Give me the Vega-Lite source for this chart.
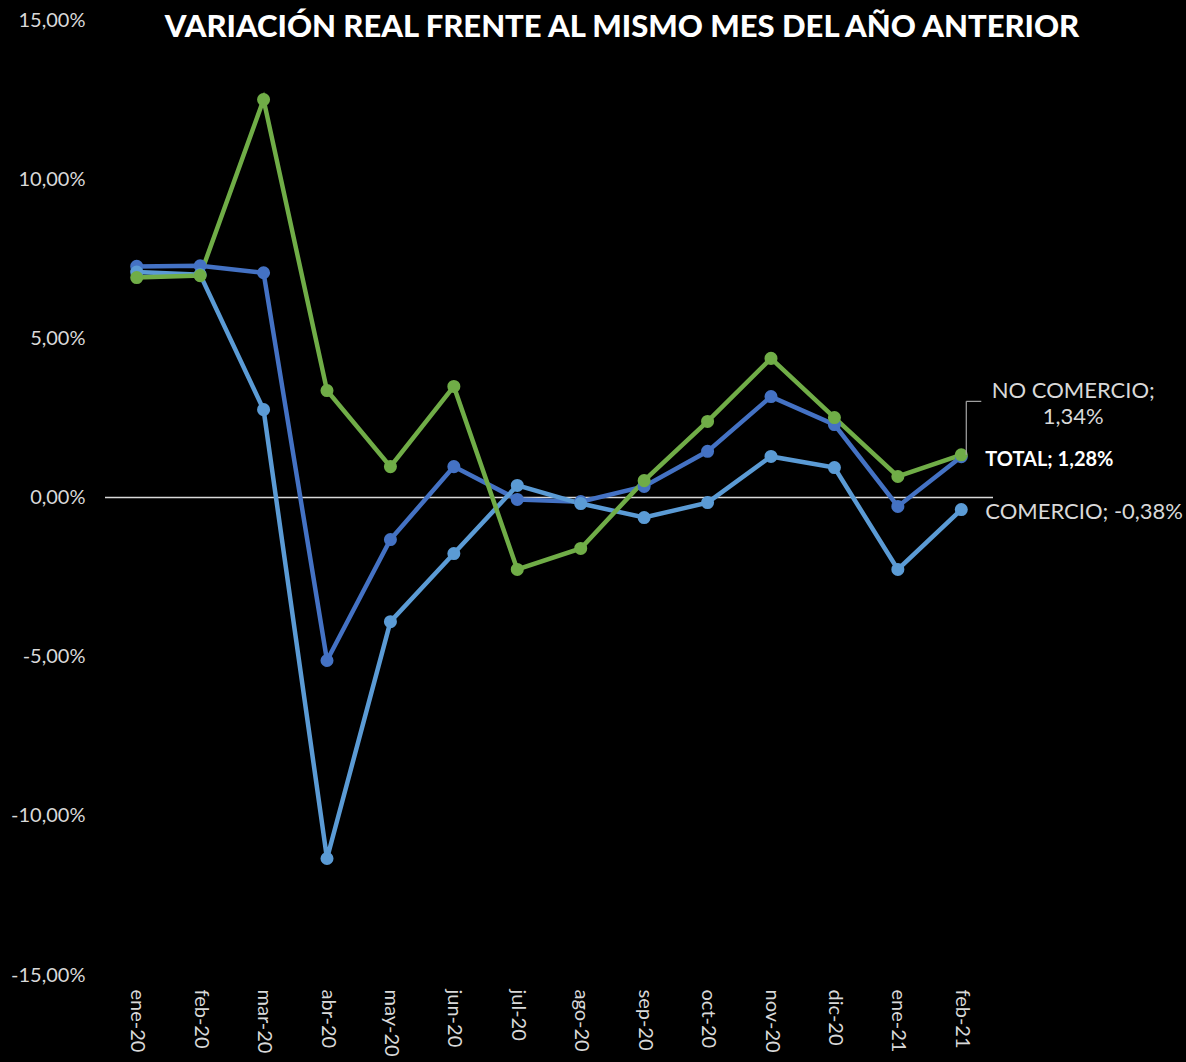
{
  "$schema": "https://vega.github.io/schema/vega-lite/v6.json",
  "width": 888,
  "height": 955,
  "autosize": {"type": "none"},
  "padding": {"left": 105, "top": 20, "right": 193, "bottom": 87},
  "background": "#000000",
  "config": {
    "view": {"stroke": null},
    "locale": {"number": {"decimal": ",", "thousands": ".", "grouping": [3], "currency": ["", " €"], "minus": "-"}},
    "font": "Lato"
  },
  "title": {
    "text": "VARIACIÓN REAL FRENTE AL MISMO MES DEL AÑO ANTERIOR",
    "color": "#ffffff",
    "font": "Lato",
    "fontWeight": 900,
    "fontSize": 31,
    "anchor": "middle",
    "frame": "group",
    "baseline": "middle",
    "offset": -49,
    "dx": 73
  },
  "datasets": {
    "series": [
      {"mes": "ene-20", "serie": "TOTAL", "valor": 0.0726},
      {"mes": "feb-20", "serie": "TOTAL", "valor": 0.0728},
      {"mes": "mar-20", "serie": "TOTAL", "valor": 0.0706},
      {"mes": "abr-20", "serie": "TOTAL", "valor": -0.0512},
      {"mes": "may-20", "serie": "TOTAL", "valor": -0.0132},
      {"mes": "jun-20", "serie": "TOTAL", "valor": 0.0097},
      {"mes": "jul-20", "serie": "TOTAL", "valor": -0.0006},
      {"mes": "ago-20", "serie": "TOTAL", "valor": -0.0013},
      {"mes": "sep-20", "serie": "TOTAL", "valor": 0.0035},
      {"mes": "oct-20", "serie": "TOTAL", "valor": 0.0145},
      {"mes": "nov-20", "serie": "TOTAL", "valor": 0.0317},
      {"mes": "dic-20", "serie": "TOTAL", "valor": 0.0229},
      {"mes": "ene-21", "serie": "TOTAL", "valor": -0.0028},
      {"mes": "feb-21", "serie": "TOTAL", "valor": 0.0128},
      {"mes": "ene-20", "serie": "COMERCIO", "valor": 0.0708},
      {"mes": "feb-20", "serie": "COMERCIO", "valor": 0.0700},
      {"mes": "mar-20", "serie": "COMERCIO", "valor": 0.0276},
      {"mes": "abr-20", "serie": "COMERCIO", "valor": -0.1134},
      {"mes": "may-20", "serie": "COMERCIO", "valor": -0.0390},
      {"mes": "jun-20", "serie": "COMERCIO", "valor": -0.0176},
      {"mes": "jul-20", "serie": "COMERCIO", "valor": 0.0038},
      {"mes": "ago-20", "serie": "COMERCIO", "valor": -0.0019},
      {"mes": "sep-20", "serie": "COMERCIO", "valor": -0.0063},
      {"mes": "oct-20", "serie": "COMERCIO", "valor": -0.0016},
      {"mes": "nov-20", "serie": "COMERCIO", "valor": 0.0129},
      {"mes": "dic-20", "serie": "COMERCIO", "valor": 0.0094},
      {"mes": "ene-21", "serie": "COMERCIO", "valor": -0.0226},
      {"mes": "feb-21", "serie": "COMERCIO", "valor": -0.0038},
      {"mes": "ene-20", "serie": "NO COMERCIO", "valor": 0.0691},
      {"mes": "feb-20", "serie": "NO COMERCIO", "valor": 0.0697},
      {"mes": "mar-20", "serie": "NO COMERCIO", "valor": 0.1250},
      {"mes": "abr-20", "serie": "NO COMERCIO", "valor": 0.0336},
      {"mes": "may-20", "serie": "NO COMERCIO", "valor": 0.0097},
      {"mes": "jun-20", "serie": "NO COMERCIO", "valor": 0.0349},
      {"mes": "jul-20", "serie": "NO COMERCIO", "valor": -0.0226},
      {"mes": "ago-20", "serie": "NO COMERCIO", "valor": -0.0160},
      {"mes": "sep-20", "serie": "NO COMERCIO", "valor": 0.0053},
      {"mes": "oct-20", "serie": "NO COMERCIO", "valor": 0.0239},
      {"mes": "nov-20", "serie": "NO COMERCIO", "valor": 0.0437},
      {"mes": "dic-20", "serie": "NO COMERCIO", "valor": 0.0251},
      {"mes": "ene-21", "serie": "NO COMERCIO", "valor": 0.0066},
      {"mes": "feb-21", "serie": "NO COMERCIO", "valor": 0.0134}
    ],
    "etiquetas": [
      {"mes": "feb-21", "serie": "TOTAL", "valor": 0.0128, "etiqueta": "TOTAL; 1,28%"},
      {"mes": "feb-21", "serie": "COMERCIO", "valor": -0.0038, "etiqueta": "COMERCIO; -0,38%"},
      {"mes": "feb-21", "serie": "NO COMERCIO", "valor": 0.0134, "etiqueta": "NO COMERCIO;\n1,34%", "valor_etiqueta": 0.0302}
    ]
  },
  "encoding": {
    "x": {
      "field": "mes",
      "type": "ordinal",
      "sort": null,
      "scale": {"type": "point", "padding": 0.5},
      "axis": {
        "title": null,
        "labelAngle": 90,
        "labelColor": "#d9d9d9",
        "labelFontSize": 20,
        "labelPadding": 14,
        "ticks": false,
        "domain": false,
        "grid": false
      }
    },
    "y": {
      "field": "valor",
      "type": "quantitative",
      "scale": {"domain": [-0.15, 0.15], "nice": false, "zero": false},
      "axis": {
        "title": null,
        "format": ".2%",
        "values": [-0.15, -0.1, -0.05, 0, 0.05, 0.1, 0.15],
        "labelColor": "#d9d9d9",
        "labelFontSize": 20,
        "labelPadding": 20,
        "ticks": false,
        "domain": false,
        "grid": false
      }
    }
  },
  "layer": [
    {
      "data": {"values": [{"cero": 0}]},
      "mark": {"type": "rule", "color": "#d9d9d9", "strokeWidth": 1.5},
      "encoding": {"y": {"field": "cero", "type": "quantitative"}, "x": null}
    },
    {
      "data": {"name": "series"},
      "mark": {"type": "line", "strokeWidth": 4.5, "point": {"size": 170, "filled": true, "opacity": 1}},
      "encoding": {
        "color": {
          "field": "serie",
          "type": "nominal",
          "scale": {"domain": ["TOTAL", "COMERCIO", "NO COMERCIO"], "range": ["#4472C4", "#5B9BD5", "#70AD47"]},
          "legend": null
        }
      }
    },
    {
      "data": {"name": "etiquetas"},
      "transform": [{"filter": "datum.serie === 'NO COMERCIO'"}],
      "mark": {"type": "rule", "color": "#a6a6a6", "strokeWidth": 1.2, "xOffset": 5},
      "encoding": {"y2": {"field": "valor_etiqueta"}}
    },
    {
      "data": {"name": "etiquetas"},
      "transform": [{"filter": "datum.serie === 'NO COMERCIO'"}],
      "mark": {"type": "rule", "color": "#a6a6a6", "strokeWidth": 1.2, "xOffset": 5, "x2Offset": 20},
      "encoding": {"x2": {"field": "mes"}, "y": {"field": "valor_etiqueta", "type": "quantitative"}}
    },
    {
      "data": {"name": "etiquetas"},
      "transform": [{"filter": "datum.serie === 'NO COMERCIO'"}],
      "mark": {"type": "text", "align": "center", "baseline": "middle", "dx": 112, "dy": -64, "fontSize": 22, "color": "#d9d9d9", "lineBreak": "\n", "lineHeight": 26},
      "encoding": {"text": {"field": "etiqueta"}}
    },
    {
      "data": {"name": "etiquetas"},
      "transform": [{"filter": "datum.serie === 'TOTAL'"}],
      "mark": {"type": "text", "align": "left", "baseline": "middle", "dx": 24, "dy": 3, "fontSize": 20, "fontWeight": "bold", "color": "#ffffff"},
      "encoding": {"text": {"field": "etiqueta"}}
    },
    {
      "data": {"name": "etiquetas"},
      "transform": [{"filter": "datum.serie === 'COMERCIO'"}],
      "mark": {"type": "text", "align": "left", "baseline": "middle", "dx": 24, "dy": 2, "fontSize": 22, "color": "#d9d9d9"},
      "encoding": {"text": {"field": "etiqueta"}}
    }
  ]
}
